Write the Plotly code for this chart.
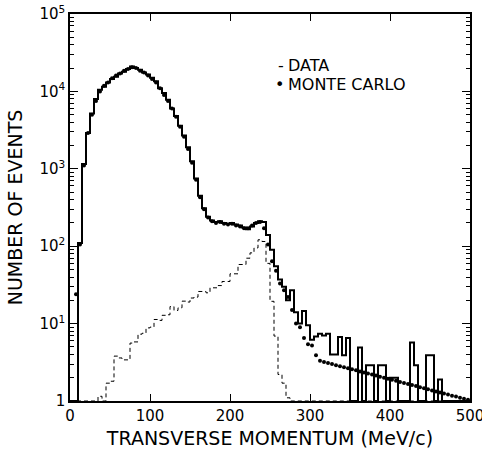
import plotly.graph_objects as go

# ---- data (5 MeV bins, lower bin edges) ----
bin_edges = list(range(0, 500, 5))
data_counts = [1, 1, 110, 1150, 2900, 5200, 8000, 10500, 11500, 13000,
               14500, 15500, 17000, 18000, 19500, 21000, 20000, 19000, 17500, 16500,
               15000, 13500, 11000, 9500, 7800, 6000, 4800, 3600, 2700, 1900,
               1250, 750, 450, 310, 240, 215, 205, 210, 200, 195,
               200, 190, 185, 175, 165, 180, 200, 210, 205, 140,
               90, 55, 37, 30, 20, 27, 14, 10, 14.5, 9.5,
               6.2, 6.8, 7.4, 7.0, 7.4, 4.0, 4.0, 6.7, 3.9, 6.5,
               1, 1, 4.9, 1, 2.9, 2.9, 1, 2.9, 2.9, 1,
               2.0, 2.0, 1, 1, 1, 5.7, 2.9, 1, 1, 3.9,
               3.9, 1, 1.9, 1, 1, 1, 1, 1, 1, 1]

dashed_counts = [1, 1, 1, 1, 1, 1, 1, 1.15, 1, 1.7,
                 1.8, 3.8, 3.6, 3.4, 3.4, 5.6, 5.8, 7.3, 7.5, 8.8,
                 9.0, 11.3, 11.0, 12.8, 13.0, 16.6, 14.8, 16.0, 19.5, 19.0,
                 21.4, 22.0, 26.0, 26.0, 25.0, 29.0, 29.0, 31.0, 35.0, 35.0,
                 44.0, 44.0, 58.0, 58.0, 70.0, 82.0, 95.0, 121.0, 115.0, 60.0,
                 19.4, 6.9, 2.2, 1.7, 1.1, 1, 1, 1, 1, 1,
                 1, 1, 1, 1, 1, 1, 1, 1, 1, 1,
                 1, 1, 1, 1, 1, 1, 1, 1, 1, 1,
                 1, 1, 1, 1, 1, 1, 1, 1, 1, 1,
                 1, 1, 1, 1, 1, 1, 1, 1, 1, 1]

mc_x = [7.5 + 5 * i for i in range(99)]
mc_counts = [24, 105, 1100, 2900, 5000, 7500, 10000, 11800, 13000, 14800,
             16000, 17000, 18500, 19500, 20500, 20000, 18500, 17500, 16000, 14500,
             13000, 11000, 9000, 7500, 6000, 4700, 3500, 2600, 1800, 1200,
             720, 430, 300, 235, 210, 200, 205, 195, 190, 195,
             185, 180, 170, 170, 185, 200, 205, 170, 105, 64,
             48, 33, 27, 22, 15, 10, 9, 6.5, 5.4, 5.2,
             3.9, 3.30, 3.20, 3.10, 3.00, 2.90, 2.82, 2.73, 2.65, 2.57,
             2.49, 2.41, 2.34, 2.27, 2.20, 2.13, 2.06, 2.00, 1.94, 1.88,
             1.82, 1.76, 1.71, 1.66, 1.61, 1.56, 1.51, 1.46, 1.42, 1.37,
             1.33, 1.29, 1.25, 1.21, 1.17, 1.14, 1.10, 1.07, 1.04]

x_tickvals = [0, 100, 200, 300, 400, 500]
x_ticktext = ["0", "100", "200", "300", "400", "500"]
y_tickvals = [1, 10, 100, 1000, 10000, 100000]
y_ticktext = ["1", "10<sup>1</sup>", "10<sup>2</sup>", "10<sup>3</sup>",
              "10<sup>4</sup>", "10<sup>5</sup>"]
y_minor = [m * d for d in [1, 10, 100, 1000, 10000] for m in range(2, 10)]
legend_labels = ["DATA", "MONTE CARLO"]
legend_symbols = ["-", "•"]

FONT = "DejaVu Sans"

# step-histogram x/y (repeat final value at right edge)
hx = bin_edges + [500]
hy_data = data_counts + [data_counts[-1]]
hy_dash = dashed_counts + [dashed_counts[-1]]

fig = go.Figure()
fig.add_trace(go.Scatter(x=hx, y=hy_dash, mode="lines", line_shape="hv",
                         line=dict(color="black", width=1, dash="4px,3px"),
                         showlegend=False, hoverinfo="skip"))
fig.add_trace(go.Scatter(x=hx, y=hy_data, mode="lines", line_shape="hv",
                         line=dict(color="black", width=2),
                         showlegend=False))
fig.add_trace(go.Scatter(x=mc_x, y=mc_counts, mode="markers",
                         marker=dict(color="black", size=4),
                         showlegend=False))

for lab, sym, yy in zip(legend_labels, legend_symbols, [0.867, 0.817]):
    fig.add_annotation(xref="paper", yref="paper", x=0.541, y=yy,
                       text=lab, showarrow=False, xanchor="left", yanchor="middle",
                       font=dict(family=FONT, size=16, color="black"))
    fig.add_annotation(xref="paper", yref="paper", x=0.541, y=yy,
                       text=sym, showarrow=False, xanchor="right", yanchor="middle",
                       font=dict(family=FONT, size=16, color="black"))

fig.update_layout(
    width=482, height=458,
    margin=dict(l=70, r=12, t=14, b=57),
    paper_bgcolor="white", plot_bgcolor="white",
    font=dict(family=FONT, color="black"),
    xaxis=dict(range=[0, 500], tickvals=x_tickvals, ticktext=x_ticktext,
               ticks="inside", ticklen=7, tickwidth=1.2, tickcolor="black",
               showline=True, linecolor="black", linewidth=1.5, mirror="allticks",
               showgrid=False, zeroline=False, automargin=False,
               ticklabeloverflow="allow",
               tickfont=dict(family=FONT, size=15),
               title=dict(text="TRANSVERSE MOMENTUM (MeV/c)",
                          font=dict(family=FONT, size=19), standoff=8)),
    yaxis=dict(type="log", range=[0, 5], tickvals=y_tickvals, ticktext=y_ticktext,
               ticks="inside", ticklen=8, tickwidth=1.2, tickcolor="black",
               showline=True, linecolor="black", linewidth=1.5, mirror="allticks",
               showgrid=False, zeroline=False, automargin=False,
               ticklabeloverflow="allow",
               minor=dict(tickvals=y_minor, ticks="inside", ticklen=4,
                          tickcolor="black", tickwidth=1, showgrid=False),
               tickfont=dict(family=FONT, size=15),
               title=dict(text="NUMBER OF EVENTS",
                          font=dict(family=FONT, size=19), standoff=12)),
)

fig.write_html("out.html")
